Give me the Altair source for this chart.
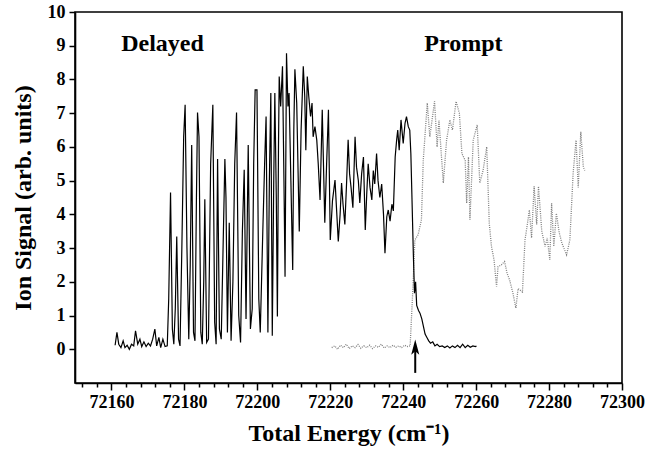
import altair as alt
import pandas as pd

# ---------------- data ----------------
delayed_E = [72161.0, 72161.5, 72162.0, 72162.6, 72163.2, 72163.7, 72164.3, 72164.9, 72165.5, 72166.1,
             72166.6, 72167.2, 72167.8, 72168.3, 72168.9, 72169.5, 72170.1, 72170.7, 72171.3, 72171.9,
             72172.4, 72173.0, 72173.5, 72174.1, 72174.7, 72175.3, 72175.7, 72176.2, 72176.7, 72177.1,
             72177.5, 72177.9, 72178.4, 72178.8, 72179.3, 72179.8, 72180.2, 72180.7, 72181.2, 72181.6,
             72182.0, 72182.5, 72182.9, 72183.3, 72183.6, 72184.0, 72184.5, 72184.9, 72185.3, 72185.6,
             72186.1, 72186.6, 72187.2, 72187.8, 72188.3, 72188.7, 72189.1, 72189.6, 72190.1, 72191.1,
             72191.4, 72191.8, 72192.3, 72192.8, 72193.3, 72193.8, 72194.3, 72194.9, 72195.4, 72195.9,
             72196.4, 72196.9, 72197.5, 72198.1, 72198.6, 72199.0, 72199.4, 72199.9, 72200.4, 72200.8,
             72201.5, 72202.0, 72202.4, 72202.9, 72203.3, 72203.7, 72204.1, 72204.5, 72204.8, 72205.2,
             72205.5, 72205.8, 72206.0, 72206.4, 72206.9, 72207.3, 72207.6, 72208.0, 72208.4, 72208.7,
             72209.2, 72209.7, 72210.0, 72210.3, 72210.8, 72211.5, 72212.0, 72212.6, 72213.0, 72213.3,
             72213.7, 72214.1, 72214.6, 72215.0, 72215.3, 72215.8, 72216.3, 72216.7, 72217.2, 72217.8,
             72218.5, 72219.0, 72219.5, 72220.0, 72220.6, 72221.3, 72221.7, 72222.2, 72222.7, 72223.1,
             72223.5, 72224.0, 72224.5, 72224.9, 72225.3, 72225.7, 72226.2, 72226.8, 72227.2, 72227.7,
             72228.1, 72228.6, 72229.1, 72229.6, 72230.0, 72230.4, 72230.9, 72231.4, 72231.8, 72232.2,
             72232.7, 72233.1, 72233.6, 72234.1, 72234.6, 72235.0, 72235.5, 72235.9, 72236.4, 72236.9,
             72237.3, 72237.8, 72238.2, 72238.5, 72238.9, 72239.4, 72240.0, 72240.5, 72240.9, 72241.4,
             72241.8, 72242.1, 72242.4, 72242.8, 72243.1, 72243.4, 72243.7, 72244.2, 72244.6, 72245.1,
             72245.5, 72246.0, 72246.5, 72247.0, 72247.5, 72248.1, 72248.7, 72249.3, 72250.0, 72250.7,
             72251.4, 72252.1, 72252.8, 72253.5, 72254.2, 72254.9, 72255.6, 72256.3, 72257.0, 72257.7,
             72258.4, 72259.1, 72259.8, 72260.1]
delayed_S = [0.12, 0.50, 0.15, 0.05, 0.25, 0.05, 0.12, 0.00, 0.15, 0.10,
             0.55, 0.15, 0.30, 0.08, 0.22, 0.08, 0.18, 0.10, 0.30, 0.60,
             0.10, 0.35, 0.05, 0.30, 0.08, 0.10, 1.50, 4.65, 0.60, 0.15,
             1.20, 3.34, 0.30, 0.10, 3.00, 6.30, 7.25, 3.00, 0.30, 2.50,
             6.06, 0.50, 0.25, 4.50, 7.02, 6.30, 0.50, 0.15, 2.00, 4.45,
             0.20, 0.30, 5.50, 7.25, 0.80, 0.15, 5.64, 0.60, 0.30, 5.64,
             4.50, 0.50, 3.75, 0.25, 2.00, 5.50, 7.02, 1.00, 0.20, 3.50,
             5.32, 0.90, 6.06, 0.60, 1.20, 5.50, 7.69, 7.69, 1.50, 0.50,
             3.50, 5.50, 6.90, 0.50, 5.00, 7.60, 0.40, 5.00, 7.60, 4.50,
             0.97, 6.00, 8.09, 7.20, 8.39, 5.00, 2.15, 8.78, 7.20, 7.60,
             5.00, 2.35, 6.50, 8.30, 7.30, 3.49, 6.50, 8.39, 7.50, 5.90,
             8.09, 7.50, 6.90, 7.30, 6.30, 6.60, 6.20, 5.50, 4.43, 7.10,
             3.75, 5.50, 7.10, 3.24, 4.40, 5.02, 4.20, 3.20, 4.00, 4.93,
             4.30, 3.70, 5.00, 6.21, 5.20, 4.80, 4.20, 6.30, 5.40, 5.00,
             4.34, 5.20, 5.70, 3.54, 4.60, 5.50, 4.80, 4.43, 5.30, 4.90,
             5.80, 5.00, 4.50, 4.90, 4.00, 2.85, 3.93, 4.13, 3.80, 4.30,
             4.10, 5.70, 6.20, 6.50, 5.90, 6.80, 6.10, 6.70, 6.90, 6.60,
             6.50, 5.80, 4.50, 2.75, 1.66, 2.00, 1.30, 1.15, 1.07, 0.90,
             0.70, 0.45, 0.35, 0.25, 0.18, 0.22, 0.10, 0.15, 0.08, 0.10,
             0.05, 0.10, 0.04, 0.10, 0.05, 0.12, 0.05, 0.15, 0.05, 0.12,
             0.06, 0.10, 0.08, 0.10]

prompt_E = [72220.4, 72221.2, 72222.0, 72222.8, 72223.6, 72224.4, 72225.2, 72226.0, 72226.8, 72227.6,
            72228.4, 72229.2, 72230.0, 72230.8, 72231.6, 72232.4, 72233.2, 72234.0, 72234.8, 72235.6,
            72236.4, 72237.2, 72238.0, 72238.8, 72239.6, 72240.4, 72241.2, 72241.9, 72242.6, 72243.2,
            72244.1, 72245.0, 72245.5, 72246.6, 72247.3, 72248.6, 72249.3, 72249.8, 72251.0, 72251.9,
            72252.8, 72253.5, 72254.5, 72255.4, 72256.1, 72257.0, 72257.4, 72257.9, 72258.3, 72259.2,
            72260.3, 72261.0, 72261.9, 72262.9, 72263.6, 72264.2, 72264.9, 72265.6, 72266.0, 72266.9,
            72267.8, 72268.5, 72269.2, 72270.1, 72270.9, 72271.5, 72272.7, 72273.4, 72273.9, 72274.6,
            72275.2, 72275.9, 72276.6, 72277.1, 72278.0, 72278.9, 72279.5, 72280.2, 72280.7, 72281.3,
            72282.0, 72282.8, 72283.5, 72284.8, 72285.7, 72286.2, 72286.6, 72287.4, 72288.0, 72288.7,
            72289.4, 72289.8]
prompt_S = [0.05, 0.10, 0.00, 0.12, 0.05, 0.15, 0.02, 0.10, 0.05, 0.14,
            0.03, 0.10, 0.05, 0.12, 0.02, 0.10, 0.06, 0.15, 0.04, 0.10,
            0.05, 0.12, 0.06, 0.10, 0.05, 0.12, 0.08, 0.10, 1.67, 3.24,
            3.40, 3.84, 5.60, 7.30, 6.30, 7.35, 6.00, 6.80, 4.93, 6.20,
            6.80, 6.50, 7.35, 7.00, 5.80, 5.60, 4.33, 5.70, 3.84, 6.20,
            6.65, 4.93, 5.30, 6.00, 3.74, 3.05, 2.66, 1.86, 2.45, 2.50,
            2.60, 2.25, 2.05, 1.66, 1.22, 1.80, 1.70, 3.24, 3.60, 4.13,
            3.30, 4.83, 3.70, 4.83, 3.50, 3.05, 3.30, 2.65, 4.33, 3.05,
            4.03, 3.45, 3.15, 2.80, 3.24, 4.33, 5.22, 6.20, 4.80, 6.45,
            5.40, 5.30]

label_text = ["Delayed", "Prompt"]
label_E = [72174.0, 72256.5]
label_S = [9.05, 9.05]

arrow_E = [72243.3]
arrow_bottom = [-0.7]
arrow_top = [0.05]

x_tick_values = list(range(72152, 72301, 4))
y_tick_values = list(range(0, 11))

# ---------------- chart ----------------
df_d = pd.DataFrame({"E": delayed_E, "S": delayed_S})
df_p = pd.DataFrame({"E": prompt_E, "S": prompt_S})
df_lab = pd.DataFrame({"t": label_text, "E": label_E, "S": label_S})
df_arrow = pd.DataFrame({"E": arrow_E, "y0": arrow_bottom, "y1": arrow_top})

FONT = "Liberation Serif"
xscale = alt.Scale(domain=[72150, 72300], nice=False, zero=False)
yscale = alt.Scale(domain=[-1, 10], nice=False, zero=False)

x_axis = alt.Axis(
    values=x_tick_values,
    tickCount=500,
    format="d",
    labelExpr="datum.value % 20 === 0 ? datum.label : ''",
    tickSize={"condition": {"test": "datum.value % 20 === 0", "value": 7}, "value": 4},
    labelOverlap=False,
    labelFlush=False,
    labelPadding=3,
    title="Total Energy (cm⁻¹)",
    titlePadding=10,
)
y_axis = alt.Axis(
    values=y_tick_values,
    tickCount=50,
    format="d",
    tickSize=6,
    labelOverlap=False,
    labelPadding=4,
    title="Ion Signal (arb. units)",
    titlePadding=12,
)

x_enc = alt.X("E:Q", scale=xscale, axis=x_axis)
y_enc = alt.Y("S:Q", scale=yscale, axis=y_axis)

delayed = alt.Chart(df_d).mark_line(color="black", strokeWidth=1.2).encode(x=x_enc, y=y_enc)
prompt = alt.Chart(df_p).mark_line(color="#808080", strokeWidth=1.3, strokeDash=[1, 1.2]).encode(
    x="E:Q", y="S:Q")
labels = alt.Chart(df_lab).mark_text(font=FONT, fontWeight="bold", fontSize=24, color="black").encode(
    x="E:Q", y="S:Q", text="t:N")
shaft = alt.Chart(df_arrow).mark_rule(color="black", strokeWidth=2).encode(
    x="E:Q", y="y0:Q", y2="y1:Q")
head = alt.Chart(df_arrow).mark_point(
    shape="M0,-1 L0.5,0.9 L0,0.45 L-0.5,0.9 Z", size=260, filled=True, color="black", opacity=1
).encode(x="E:Q", y="y1:Q")

chart = alt.layer(prompt, delayed, shaft, head, labels).properties(
    width=547, height=371,
    autosize=alt.AutoSizeParams(type="none"),
    padding={"left": 75, "top": 12, "right": 23, "bottom": 71},
).configure_view(
    stroke="black", strokeWidth=1.6
).configure_axis(
    grid=False,
    domainColor="black", domainWidth=1.6,
    tickColor="black", tickWidth=1.5,
    labelFont=FONT, labelFontWeight="bold", labelFontSize=18, labelColor="black",
    titleFont=FONT, titleFontWeight="bold", titleFontSize=24, titleColor="black",
)

chart.save("out.html", embed_options={"renderer": "svg", "actions": False})
